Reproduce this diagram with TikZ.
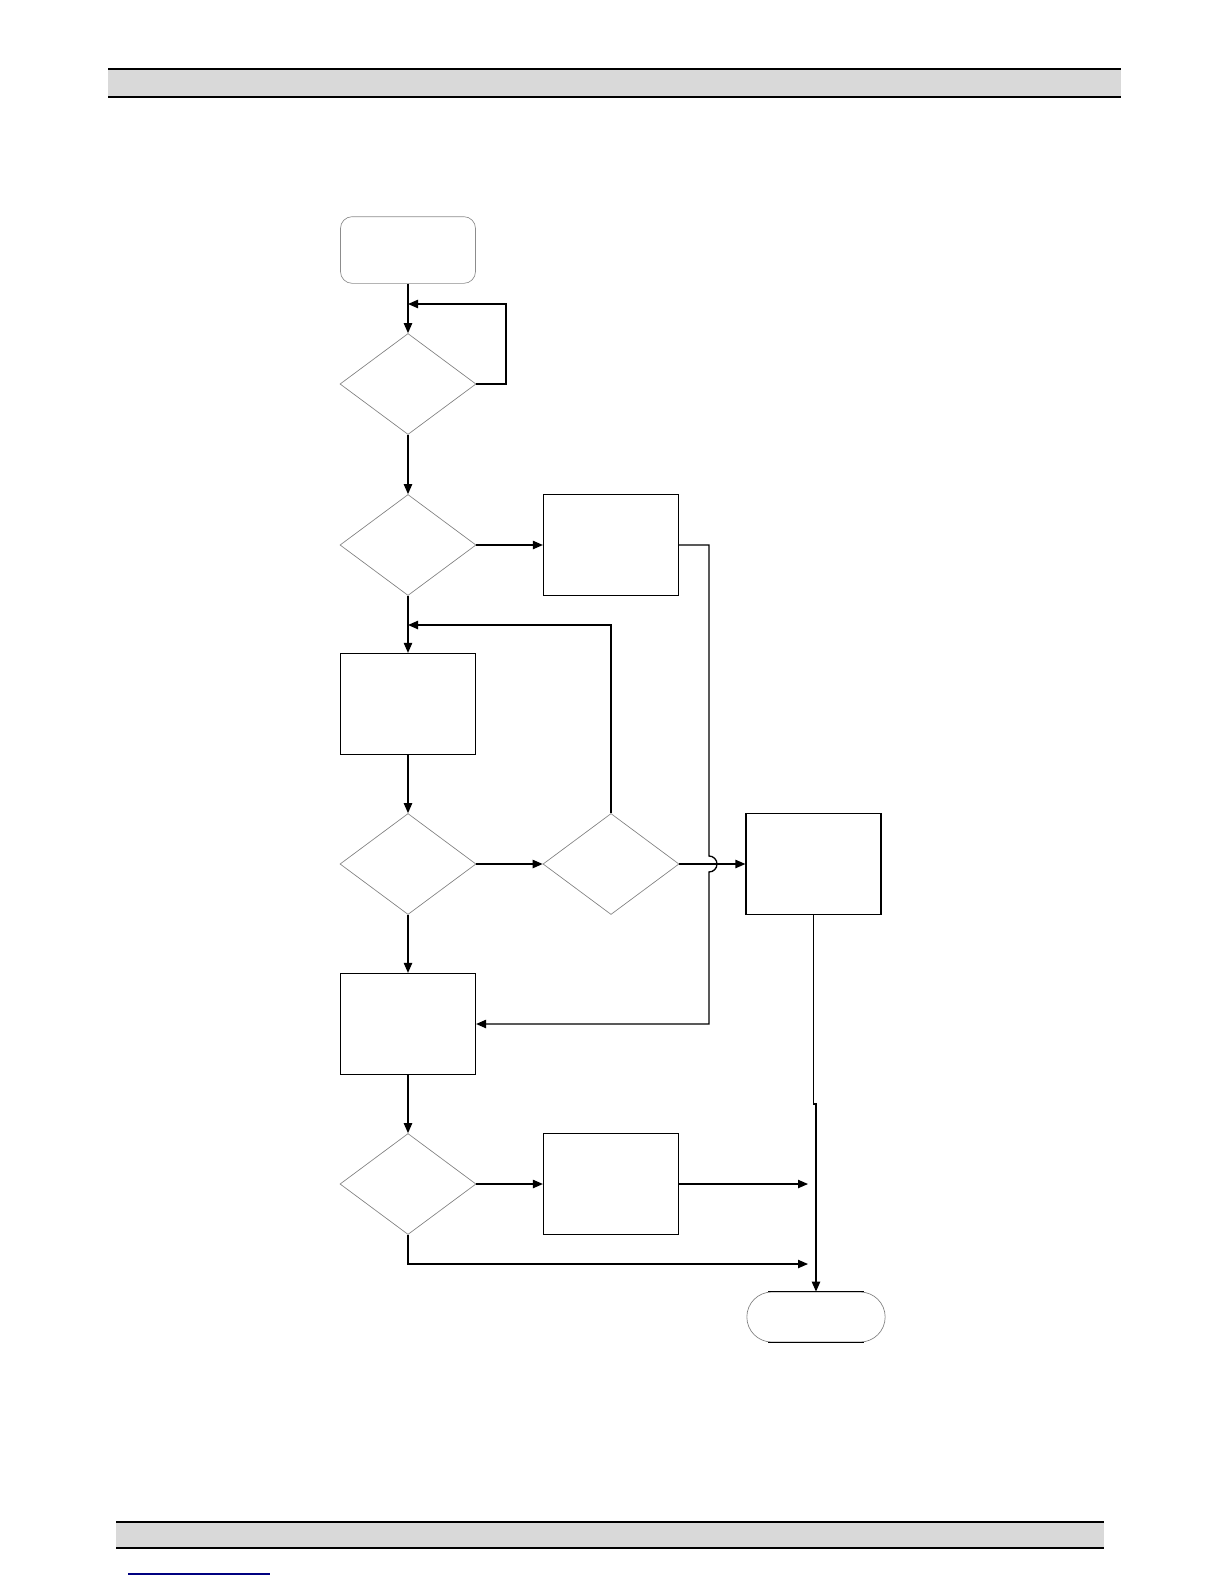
\documentclass[tikz,border=0pt]{standalone}
\usetikzlibrary{shapes.geometric,arrows.meta}
\begin{document}
\begin{tikzpicture}[x=0.6pt,y=-0.6pt,
  conn/.style={line width=0.8pt,black},
  arr/.style={conn,-{Triangle[length=6pt,width=5pt]}},
  decision/.style={diamond,draw=black!50,line width=0.4pt,minimum width=81.6pt,minimum height=60.6pt,inner sep=0pt},
  procbox/.style={rectangle,draw=black,line width=0.7pt,minimum width=81pt,minimum height=60.6pt,inner sep=0pt},
  startbox/.style={rectangle,rounded corners=7pt,draw=black!45,line width=0.4pt,minimum width=81pt,minimum height=40pt,inner sep=0pt},
  endbox/.style={rectangle,rounded corners=15pt,draw=black!50,line width=0.4pt,minimum width=83pt,minimum height=30pt,inner sep=0pt}]
\useasboundingbox (0,0) rectangle (1224,1584);
% header and footer bands
\fill[black!15] (108,69) rectangle (1121,97);
\draw[line width=1.1pt] (108,69) -- (1121,69);
\draw[line width=1.1pt] (108,97) -- (1121,97);
\fill[black!15] (116,1522) rectangle (1104,1548);
\draw[line width=1.1pt] (116,1522) -- (1104,1522);
\draw[line width=1.1pt] (116,1548) -- (1104,1548);
\draw[line width=0.8pt,blue!50!black] (128,1574) -- (270,1574);
% nodes
\node[startbox] (start) at (408,250) {};
\node[decision] (d1) at (408,384) {};
\node[decision] (d2) at (408,545) {};
\node[procbox] (a) at (611,545) {};
\node[procbox] (b) at (408,704) {};
\node[decision] (d3) at (408,864) {};
\node[decision] (d4) at (611,864) {};
\node[procbox] (e) at (813.5,864) {};
\node[procbox] (c) at (408,1024) {};
\node[decision] (d5) at (408,1184) {};
\node[procbox] (f) at (611,1184) {};
\node[endbox] (end) at (816,1317) {};
\draw[conn] ([xshift=13pt]end.north west) -- ([xshift=-13pt]end.north east);
\draw[conn] ([xshift=13pt]end.south west) -- ([xshift=-13pt]end.south east);
% helper coordinates
\coordinate (loop1) at (408,304);
\coordinate (loop2) at (408,625);
\coordinate (jog) at (813.5,1104);
\coordinate (m1) at (808,1184);
\coordinate (m2) at (808,1264);
% connectors
\draw[arr] (start.south) -- (d1.north);
\draw[arr] (d1.east) -- (506,384) -- (506,304) -- (loop1);
\draw[arr] (d1.south) -- (d2.north);
\draw[arr] (d2.east) -- (a.west);
\draw[arr] (d2.south) -- (b.north);
\draw[arr] (d4.north) |- (loop2);
\draw[arr] (b.south) -- (d3.north);
\draw[arr] (d3.east) -- (d4.west);
\draw[arr] (d4.east) -- (e.west);
\draw[arr] (d3.south) -- (c.north);
\draw[arr] (a.east) -- (709,545) -- (709,856) arc[start angle=-90,end angle=90,radius=8] -- (709,1024) -- (c.east);
\draw[arr] (c.south) -- (d5.north);
\draw[arr] (d5.east) -- (f.west);
\draw[arr] (f.east) -- (m1);
\draw[arr] (d5.south) |- (m2);
\draw[arr] (e.south) -- (jog) -- (816,1104) -- (end.north);
\end{tikzpicture}
\end{document}
